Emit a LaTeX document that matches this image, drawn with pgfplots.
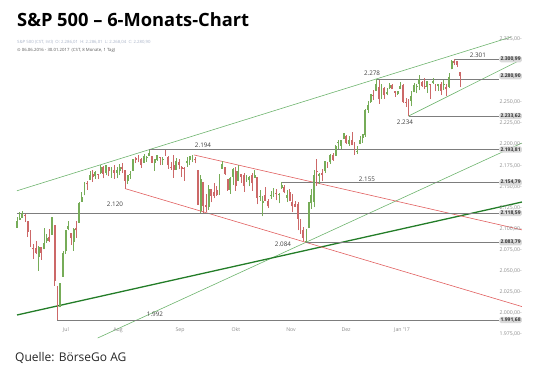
\documentclass[border=0pt]{standalone}
\usepackage{pgfplots}
\pgfplotsset{compat=1.18}
\usepackage{pgfplotstable}
\usepackage{fontspec}
\setmainfont{Open Sans}
\newfontfamily\symfont{DejaVu Sans}
\definecolor{cgreen}{RGB}{118,172,88}
\definecolor{cred}{RGB}{204,104,104}
\definecolor{tgreen}{RGB}{110,180,110}
\definecolor{kgreen}{RGB}{35,125,40}
\definecolor{tred}{RGB}{225,95,95}
\definecolor{hgray}{RGB}{125,125,125}
\definecolor{boxgray}{RGB}{218,218,218}
\definecolor{labgray}{RGB}{140,140,140}
\definecolor{subblue}{RGB}{170,180,200}

\pgfplotstableread{
i O H L C
0 2100.83 2113.36 2100.83 2109.41
1 2110.18 2119.22 2110.18 2112.13
2 2112.71 2120.55 2112.71 2119.12
3 2115.65 2117.64 2107.73 2115.48
4 2109.57 2109.57 2089.96 2096.07
5 2091.75 2098.12 2078.46 2079.06
6 2076.65 2081.30 2064.10 2075.32
7 2077.60 2085.65 2069.80 2071.50
8 2066.36 2079.62 2050.37 2077.99
9 2078.20 2078.20 2062.84 2071.22
10 2075.58 2100.66 2075.58 2083.25
11 2085.19 2093.66 2083.02 2088.90
12 2089.75 2099.71 2084.36 2085.45
13 2092.80 2113.32 2092.80 2113.32
14 2103.81 2103.81 2032.57 2037.41
15 2031.45 2031.45 1991.68 2000.54
16 2006.67 2036.09 2006.67 2036.09
17 2042.69 2073.13 2042.69 2070.77
18 2073.17 2098.94 2070.00 2098.86
19 2099.34 2108.71 2097.90 2102.95
20 2095.05 2095.05 2080.86 2088.55
21 2084.43 2100.72 2074.02 2099.73
22 2100.42 2109.08 2089.39 2097.90
23 2106.97 2131.71 2106.97 2129.90
24 2131.72 2143.16 2131.72 2137.16
25 2139.50 2155.40 2139.50 2152.14
26 2153.81 2156.45 2146.21 2152.43
27 2157.88 2168.99 2157.88 2163.75
28 2165.13 2169.05 2155.79 2161.74
29 2162.04 2168.35 2159.07 2166.89
30 2163.79 2164.63 2159.01 2163.78
31 2166.10 2175.63 2164.89 2173.02
32 2172.91 2174.56 2159.75 2165.17
33 2166.47 2175.11 2163.24 2175.03
34 2173.71 2173.71 2161.95 2168.48
35 2168.97 2173.54 2160.18 2169.18
36 2169.81 2174.98 2159.07 2166.58
37 2166.05 2172.85 2159.74 2170.06
38 2168.83 2177.09 2163.49 2173.60
39 2173.15 2178.29 2166.21 2170.84
40 2169.94 2170.20 2147.58 2157.03
41 2156.81 2163.79 2152.56 2163.79
42 2163.51 2168.19 2159.07 2164.25
43 2168.79 2182.87 2168.79 2182.87
44 2183.76 2185.44 2177.85 2180.89
45 2182.24 2187.66 2178.61 2181.74
46 2182.81 2183.41 2172.00 2175.49
47 2177.97 2188.45 2177.97 2185.79
48 2183.74 2186.28 2179.42 2184.05
49 2186.08 2193.81 2186.08 2190.15
50 2186.24 2186.24 2178.14 2178.15
51 2177.84 2183.08 2168.50 2182.22
52 2181.90 2187.03 2180.46 2187.02
53 2184.24 2185.00 2175.13 2183.87
54 2181.58 2185.15 2175.96 2182.64
55 2187.81 2193.42 2186.80 2186.90
56 2185.09 2186.66 2171.25 2175.44
57 2173.29 2179.00 2169.74 2172.47
58 2175.10 2187.94 2160.39 2169.04
59 2170.19 2183.48 2170.19 2180.38
60 2179.45 2182.27 2170.41 2176.12
61 2173.56 2173.79 2161.35 2170.95
62 2171.33 2173.56 2157.09 2170.86
63 2177.49 2184.87 2173.59 2179.98
64 2181.61 2186.57 2175.10 2186.48
65 2185.17 2187.87 2179.07 2186.16
66 2182.76 2184.94 2177.49 2181.30
67 2169.08 2169.08 2127.81 2127.81
68 2120.86 2163.30 2119.12 2159.04
69 2155.81 2155.81 2119.12 2127.02
70 2127.86 2141.33 2119.90 2125.77
71 2125.36 2151.31 2122.36 2147.26
72 2146.48 2146.48 2131.20 2139.16
73 2143.99 2153.61 2135.91 2139.12
74 2145.94 2150.80 2139.17 2139.76
75 2144.58 2165.11 2139.57 2163.12
76 2170.94 2179.99 2170.94 2177.18
77 2173.29 2173.75 2163.97 2164.69
78 2158.54 2158.54 2145.04 2146.10
79 2146.04 2161.13 2141.55 2159.93
80 2161.85 2172.40 2151.79 2171.37
81 2168.90 2172.67 2145.20 2151.13
82 2156.51 2175.30 2156.51 2168.27
83 2164.33 2164.41 2154.77 2161.20
84 2163.37 2165.46 2144.01 2150.49
85 2155.15 2163.95 2155.15 2159.73
86 2158.22 2162.93 2150.28 2160.77
87 2164.19 2165.86 2144.85 2153.74
88 2160.39 2169.60 2160.39 2163.66
89 2161.35 2161.56 2128.84 2136.73
90 2137.67 2145.36 2132.77 2139.18
91 2130.26 2138.19 2114.72 2132.55
92 2139.68 2149.19 2132.98 2132.98
93 2132.95 2135.61 2124.43 2126.50
94 2138.31 2144.38 2135.49 2139.60
95 2140.81 2148.44 2138.15 2144.29
96 2142.51 2147.18 2133.44 2141.34
97 2139.43 2142.63 2130.09 2141.16
98 2148.50 2154.79 2146.91 2151.33
99 2149.72 2151.44 2141.93 2143.16
100 2136.97 2145.73 2131.59 2139.43
101 2144.06 2147.13 2132.52 2133.04
102 2132.23 2140.72 2119.36 2126.41
103 2129.78 2133.25 2125.53 2126.15
104 2128.68 2131.45 2097.85 2111.72
105 2109.43 2111.76 2094.00 2097.94
106 2098.80 2102.56 2085.23 2088.66
107 2083.79 2099.07 2083.79 2085.18
108 2100.59 2132.00 2100.59 2131.52
109 2129.92 2146.87 2123.56 2139.56
110 2131.56 2170.10 2125.35 2163.26
111 2167.49 2182.30 2151.17 2167.48
112 2162.71 2165.92 2152.49 2164.45
113 2165.64 2171.36 2156.08 2164.20
114 2168.29 2180.84 2166.38 2180.39
115 2177.53 2179.22 2172.20 2176.94
116 2178.61 2188.06 2176.65 2187.12
117 2186.85 2189.89 2180.38 2181.90
118 2186.43 2198.70 2186.43 2198.18
119 2201.56 2204.80 2194.51 2202.94
120 2198.55 2204.72 2194.51 2204.72
121 2206.27 2213.35 2206.27 2213.35
122 2210.21 2211.14 2200.36 2201.72
123 2200.76 2210.46 2198.15 2204.66
124 2204.97 2214.10 2198.81 2198.81
125 2200.17 2202.60 2187.44 2191.08
126 2191.12 2197.95 2188.37 2191.95
127 2200.65 2209.42 2199.97 2204.71
128 2207.26 2212.78 2202.21 2212.23
129 2210.72 2241.63 2208.93 2241.35
130 2241.13 2251.69 2237.57 2246.19
131 2249.73 2259.80 2249.23 2259.53
132 2258.83 2264.03 2252.37 2256.96
133 2263.32 2277.53 2263.32 2271.72
134 2268.35 2276.20 2248.44 2253.28
135 2253.77 2272.12 2253.77 2262.03
136 2266.81 2268.05 2254.24 2258.07
137 2259.24 2267.47 2258.21 2262.53
138 2266.50 2272.56 2266.14 2270.76
139 2270.54 2271.23 2265.15 2265.18
140 2262.93 2263.18 2256.08 2260.96
141 2260.25 2263.79 2258.84 2263.79
142 2266.23 2273.82 2266.15 2268.88
143 2270.23 2271.31 2249.11 2249.92
144 2249.50 2254.51 2244.56 2249.26
145 2251.61 2253.58 2233.62 2238.83
146 2251.57 2263.88 2245.13 2257.83
147 2261.60 2272.82 2261.60 2270.75
148 2268.18 2271.50 2260.45 2269.00
149 2271.14 2282.10 2264.06 2276.98
150 2273.59 2275.49 2268.04 2268.90
151 2269.72 2279.27 2265.27 2268.90
152 2268.60 2275.32 2260.83 2275.32
153 2271.14 2271.78 2254.25 2270.44
154 2272.74 2278.68 2271.51 2274.64
155 2269.14 2272.08 2262.81 2267.89
156 2269.14 2272.01 2263.35 2271.89
157 2271.90 2274.33 2258.41 2263.69
158 2269.96 2276.96 2265.01 2271.31
159 2267.78 2271.78 2257.02 2265.20
160 2267.88 2284.63 2266.68 2280.07
161 2288.88 2299.55 2288.88 2298.37
162 2298.63 2300.99 2294.08 2296.68
163 2299.02 2299.02 2291.62 2294.69
164 2286.01 2286.01 2268.04 2280.90
}\spx

\begin{document}
\begin{tikzpicture}
\useasboundingbox (0,0) rectangle (540pt,377pt);
\begin{axis}[
  at={(16pt,39pt)}, anchor=south west,
  scale only axis, width=506pt, height=301pt,
  xmin=-0.37, xmax=187.04, ymin=1970.3, ymax=2327.4,
  hide axis, clip=false,
  candle/.style={draw=none, mark=none, restrict y to domain=1900:2400,
    error bars/.cd, y dir=plus, y explicit, error mark=none},
]
% trend lines
\addplot[tgreen, line width=0.6pt] coordinates {(0,2144.97) (183,2327.4)};
\addplot[tgreen, line width=0.6pt] coordinates {(29.9,1970.3) (187,2201.6)};
\addplot[tgreen, line width=0.6pt] coordinates {(145,2233.62) (186.5,2300.1)};
\addplot[kgreen, line width=1.3pt] coordinates {(0,1997.6) (187,2131.6)};
\addplot[tred, line width=0.6pt] coordinates {(65.5,2187.5) (187,2098.6)};
\addplot[tred, line width=0.6pt] coordinates {(40,2147.58) (187,2007.6)};
% horizontal lines
\addplot[hgray, line width=0.9pt] coordinates {(0,2118.59) (178.5,2118.59)};
\addplot[hgray, line width=0.9pt] coordinates {(49,2193.81) (178.5,2193.81)};
\addplot[hgray, line width=0.9pt] coordinates {(98,2154.79) (178.5,2154.79)};
\addplot[hgray, line width=0.9pt] coordinates {(107,2083.79) (178.5,2083.79)};
\addplot[hgray, line width=0.9pt] coordinates {(15,1991.68) (178.5,1991.68)};
\addplot[hgray, line width=0.9pt] coordinates {(133,2277.53) (178.5,2277.53)};
\addplot[hgray, line width=0.9pt] coordinates {(145,2233.62) (178.5,2233.62)};
\addplot[hgray, line width=0.9pt] coordinates {(162,2300.99) (178.5,2300.99)};
% wicks
\addplot[candle, error bar style={draw=cgreen, line width=0.6pt}]
  table[x=i, y expr={\thisrow{C}>=\thisrow{O} ? \thisrow{L} : 0},
        y error plus expr={\thisrow{H}-\thisrow{L}}] {\spx};
\addplot[candle, error bar style={draw=cred, line width=0.6pt}]
  table[x=i, y expr={\thisrow{C}<\thisrow{O} ? \thisrow{L} : 0},
        y error plus expr={\thisrow{H}-\thisrow{L}}] {\spx};
% bodies
\addplot[candle, error bar style={draw=cgreen, line width=1.9pt}]
  table[x=i, y expr={\thisrow{C}>=\thisrow{O} ? \thisrow{O} : 0},
        y error plus expr={max(\thisrow{C}-\thisrow{O},0.8)}] {\spx};
\addplot[candle, error bar style={draw=cred, line width=1.9pt}]
  table[x=i, y expr={\thisrow{C}<\thisrow{O} ? \thisrow{C} : 0},
        y error plus expr={max(\thisrow{O}-\thisrow{C},0.8)}] {\spx};

% line value labels
\begin{scope}[every node/.style={font=\fontsize{6.3}{7}\selectfont, text=black!75, inner sep=0pt}]
\node at (axis cs:36.3,2129.3) {2.120};
\node at (axis cs:68.9,2199.3) {2.194};
\node at (axis cs:129.6,2158.9) {2.155};
\node at (axis cs:98.5,2081.8) {2.084};
\node at (axis cs:51.1,1998.8) {1.992};
\node at (axis cs:131.5,2284.7) {2.278};
\node at (axis cs:143.7,2226.5) {2.234};
\node at (axis cs:170.7,2306.0) {2.301};
\end{scope}

% month labels
\begin{scope}[every node/.style={font=\fontsize{5.2}{6}\selectfont, text=labgray, inner sep=0pt}]
\node at (axis cs:18.1,1979.8) {Jul};
\node at (axis cs:37.4,1979.8) {Aug};
\node at (axis cs:60.4,1979.8) {Sep};
\node at (axis cs:81.1,1979.8) {Okt};
\node at (axis cs:101.5,1979.8) {Nov};
\node at (axis cs:121.9,1979.8) {Dez};
\node at (axis cs:142.6,1979.8) {Jan '17};
\end{scope}

% y tick labels
\begin{scope}[every node/.style={font=\fontsize{5.2}{6}\selectfont, text=labgray, inner sep=0pt, anchor=east}]
\node at (axis cs:187.04,2325) {2.325,00-};
\node at (axis cs:187.04,2250) {2.250,00-};
\node at (axis cs:187.04,2225) {2.225,00-};
\node at (axis cs:187.04,2200) {2.200,00-};
\node at (axis cs:187.04,2175) {2.175,00-};
\node at (axis cs:187.04,2150) {2.150,00-};
\node at (axis cs:187.04,2125) {2.125,00-};
\node at (axis cs:187.04,2100) {2.100,00-};
\node at (axis cs:187.04,2075) {2.075,00-};
\node at (axis cs:187.04,2050) {2.050,00-};
\node at (axis cs:187.04,2025) {2.025,00-};
\node at (axis cs:187.04,2000) {2.000,00-};
\node at (axis cs:187.04,1975) {1.975,00-};
\end{scope}

% value boxes
\begin{scope}[every node/.style={font=\bfseries\fontsize{5}{6}\selectfont, text=black!80, fill=boxgray, rounded corners=1.5pt, inner xsep=1.2pt, inner ysep=1pt, anchor=east}]
\node at (axis cs:187.04,2300.99) {2.300,99};
\node at (axis cs:187.04,2280.90) {2.280,90};
\node at (axis cs:187.04,2233.62) {2.233,62};
\node at (axis cs:187.04,2193.81) {2.193,81};
\node at (axis cs:187.04,2154.79) {2.154,79};
\node at (axis cs:187.04,2118.59) {2.118,59};
\node at (axis cs:187.04,2083.79) {2.083,79};
\node at (axis cs:187.04,1991.68) {1.991,68};
\end{scope}
\end{axis}

% title and texts
\node[anchor=west, inner sep=0pt, font=\bfseries\fontsize{18.3}{20}\selectfont] at (17pt,357pt) {S\&P 500 – 6-Monats-Chart};
\node[anchor=west, inner sep=0pt, font=\fontsize{4.3}{5}\selectfont, text=subblue] at (17pt,335pt) {S\&P 500 (CST, Intl) \ O: 2.286,01 \ H: 2.286,01 \ L: 2.268,04 \ C: 2.280,90};
\node[anchor=west, inner sep=0pt, font=\fontsize{4.3}{5}\selectfont, text=black!65] at (17pt,327pt) {{\symfont ⊙} 06.06.2016 - 30.01.2017 \ (CST, 8 Monate, 1 Tag)};
\node[anchor=west, inner sep=0pt, font=\fontsize{12}{14}\selectfont, text=black!85] at (15pt,19pt) {Quelle: BörseGo AG};
\end{tikzpicture}
\end{document}
